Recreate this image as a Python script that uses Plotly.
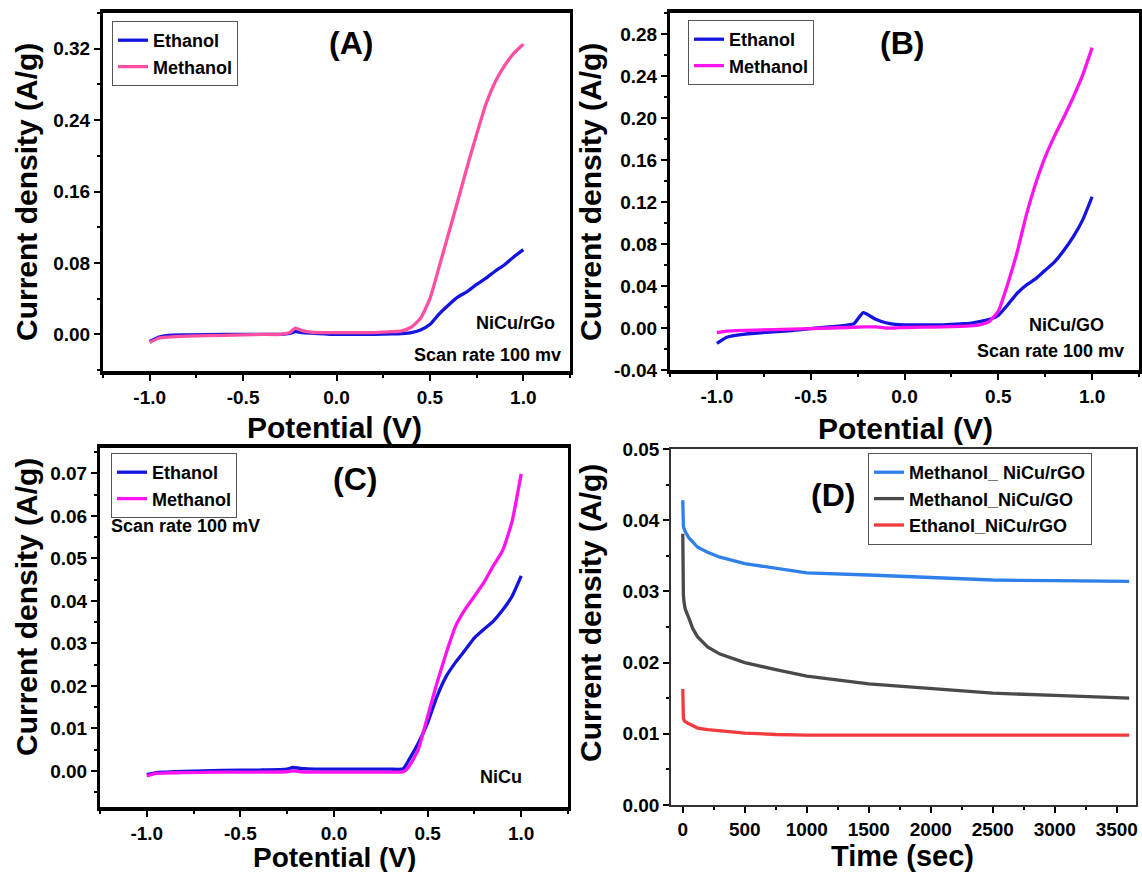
import plotly.graph_objects as go

W, H = 1142, 872

# ---------------- data ----------------
# Panel A  (NiCu/rGo)
a_pot = [-1.0, -0.95, -0.9, -0.8, -0.6, -0.4, -0.3, -0.25, -0.22, -0.18, -0.1, 0.0, 0.1, 0.2, 0.3,
         0.35, 0.4, 0.45, 0.5, 0.55, 0.6, 0.65, 0.7, 0.75, 0.8, 0.85, 0.9, 0.95, 1.0]
a_ethanol = [-0.008, -0.003, -0.001, -0.0005, 0.0, 0.0, 0.0, 0.001, 0.003, 0.002, 0.001, 0.0, 0.0, 0.0, 0.0005,
             0.001, 0.002, 0.005, 0.011, 0.023, 0.033, 0.042, 0.048, 0.056, 0.063, 0.071, 0.078, 0.087, 0.095]
a_methanol = [-0.009, -0.004, -0.003, -0.002, -0.001, 0.0, 0.0, 0.002, 0.007, 0.004, 0.002, 0.002, 0.002, 0.002, 0.003,
              0.004, 0.008, 0.018, 0.040, 0.076, 0.113, 0.150, 0.188, 0.224, 0.258, 0.283, 0.301, 0.315, 0.325]

# Panel B  (NiCu/GO)
b_pot = [-1.0, -0.95, -0.9, -0.8, -0.6, -0.5, -0.4, -0.3, -0.27, -0.22, -0.18, -0.15, -0.1, -0.05, 0.0, 0.1,
         0.2, 0.3, 0.35, 0.4, 0.45, 0.5, 0.55, 0.6, 0.65, 0.7, 0.75, 0.8, 0.85, 0.9, 0.95, 1.0]
b_ethanol = [-0.0146, -0.009, -0.007, -0.005, -0.0025, -0.0005, 0.001, 0.003, 0.004, 0.0146, 0.011, 0.008, 0.005,
             0.0035, 0.003, 0.003, 0.003, 0.004, 0.0045, 0.006, 0.008, 0.012, 0.022, 0.033, 0.041, 0.047, 0.055,
             0.063, 0.074, 0.087, 0.103, 0.125]
b_methanol = [-0.0045, -0.003, -0.0025, -0.002, -0.001, -0.0005, 0.0, 0.0005, 0.0007, 0.001, 0.001, 0.001, 0.0,
              0.0, 0.0005, 0.0008, 0.001, 0.0015, 0.002, 0.003, 0.006, 0.016, 0.042, 0.072, 0.108, 0.138, 0.163,
              0.183, 0.201, 0.220, 0.241, 0.267]

# Panel C  (NiCu)
c_pot = [-1.0, -0.95, -0.9, -0.8, -0.6, -0.4, -0.25, -0.22, -0.18, -0.1, 0.0, 0.2, 0.3, 0.37, 0.4, 0.45, 0.5,
         0.55, 0.6, 0.65, 0.7, 0.75, 0.8, 0.85, 0.9, 0.95, 1.0]
c_ethanol = [-0.0009, -0.0004, -0.0003, -0.0001, 0.0001, 0.0002, 0.0004, 0.0008, 0.0006, 0.0004, 0.0004, 0.0004,
             0.0004, 0.0005, 0.0026, 0.0065, 0.0113, 0.0175, 0.0223, 0.0256, 0.0284, 0.0313, 0.0333, 0.0352,
             0.0378, 0.0410, 0.0459]
c_methanol = [-0.0012, -0.0006, -0.0005, -0.0004, -0.0003, -0.0003, -0.0002, 0.0, -0.0002, -0.0003, -0.0003,
              -0.0003, -0.0003, -0.0002, 0.0010, 0.0050, 0.0128, 0.0207, 0.0278, 0.0341, 0.0380, 0.0411, 0.0443,
              0.0482, 0.0518, 0.0585, 0.0699]

# Panel D  (chronoamperometry)
d_time = [0, 1, 2, 5, 10, 20, 50, 80, 120, 200, 300, 500, 750, 1000, 1500, 2000, 2500, 3000, 3600]
d_meth_rgo = [0.0428, 0.0410, 0.0400, 0.0392, 0.0388, 0.0384, 0.0375, 0.0369, 0.0362, 0.0355, 0.0348, 0.0339,
              0.0332, 0.0326, 0.0323, 0.0320, 0.0316, 0.0315, 0.0314]
d_meth_go = [0.0381, 0.0340, 0.0310, 0.0295, 0.0285, 0.0275, 0.0262, 0.0248, 0.0236, 0.0222, 0.0212, 0.0200,
             0.0190, 0.0181, 0.0170, 0.0164, 0.0157, 0.0154, 0.0150]
d_eth_rgo = [0.0163, 0.0140, 0.0128, 0.0122, 0.0119, 0.0117, 0.0114, 0.0111, 0.0108, 0.0106, 0.0104, 0.0101,
             0.0099, 0.0098, 0.0098, 0.0098, 0.0098, 0.0098, 0.0098]

# tick labels
pot_ticks = [-1.0, -0.5, 0.0, 0.5, 1.0]
pot_labels = ["-1.0", "-0.5", "0.0", "0.5", "1.0"]
a_yticks = [0.0, 0.08, 0.16, 0.24, 0.32]
a_ylabels = ["0.00", "0.08", "0.16", "0.24", "0.32"]
b_yticks = [-0.04, 0.0, 0.04, 0.08, 0.12, 0.16, 0.20, 0.24, 0.28]
b_ylabels = ["-0.04", "0.00", "0.04", "0.08", "0.12", "0.16", "0.20", "0.24", "0.28"]
c_yticks = [0.0, 0.01, 0.02, 0.03, 0.04, 0.05, 0.06, 0.07]
c_ylabels = ["0.00", "0.01", "0.02", "0.03", "0.04", "0.05", "0.06", "0.07"]
d_yticks = [0.0, 0.01, 0.02, 0.03, 0.04, 0.05]
d_ylabels = ["0.00", "0.01", "0.02", "0.03", "0.04", "0.05"]
d_xticks = [0, 500, 1000, 1500, 2000, 2500, 3000, 3500]
d_xlabels = ["0", "500", "1000", "1500", "2000", "2500", "3000", "3500"]

# ---------------- styling ----------------
FONT = "Arial, Liberation Sans, sans-serif"
BLUE = "#1414DE"
PINK = "#FF4FA3"
MAGENTA = "#FF14F0"
D_BLUE = "#2F80E8"
D_GRAY = "#4A4A4A"
D_RED = "#F23A3F"

fig = go.Figure()


def add(x, y, name, color, n, legend, smooth=True):
    fig.add_trace(go.Scatter(x=x, y=y, name=name, mode="lines",
                             line=dict(color=color, width=3.3,
                                       shape="spline" if smooth else "linear",
                                       smoothing=0.5 if smooth else None),
                             xaxis="x" if n == 1 else f"x{n}",
                             yaxis="y" if n == 1 else f"y{n}",
                             legend=legend))


add(a_pot, a_ethanol, "Ethanol", BLUE, 1, "legend")
add(a_pot, a_methanol, "Methanol", PINK, 1, "legend")
add(b_pot, b_ethanol, "Ethanol", BLUE, 2, "legend2")
add(b_pot, b_methanol, "Methanol", MAGENTA, 2, "legend2")
add(c_pot, c_ethanol, "Ethanol", BLUE, 3, "legend3")
add(c_pot, c_methanol, "Methanol", MAGENTA, 3, "legend3")
add(d_time, d_meth_rgo, "Methanol_ NiCu/rGO", D_BLUE, 4, "legend4", smooth=False)
add(d_time, d_meth_go, "Methanol_NiCu/GO", D_GRAY, 4, "legend4", smooth=False)
add(d_time, d_eth_rgo, "Ethanol_NiCu/rGO", D_RED, 4, "legend4", smooth=False)


def px_x(v):
    return v / W


def px_y(v):
    return 1 - v / H


tickfont = dict(family=FONT, size=19, color="black", weight="bold")


def axis(domain, anchor, rng, tv, tt, minor_dtick, minor_tick0, lw, lc):
    return dict(domain=domain, anchor=anchor, range=rng, tickmode="array", tickvals=tv, ticktext=tt,
                automargin=False,
                showline=True, mirror=True, linewidth=lw, linecolor=lc, ticks="outside", ticklen=6,
                tickwidth=2, tickcolor="black", showgrid=False, zeroline=False, tickfont=tickfont,
                minor=dict(tickmode="linear", tick0=minor_tick0, dtick=minor_dtick, ticks="outside",
                           ticklen=3, tickwidth=2, tickcolor="black", showgrid=False))


layout = dict(
    template="none",
    width=W, height=H, margin=dict(l=0, r=0, t=0, b=0, autoexpand=False),
    paper_bgcolor="white", plot_bgcolor="white", showlegend=True,
    xaxis=axis([px_x(103), px_x(570)], "y", [-1.25, 1.25], pot_ticks, pot_labels, 0.25, -1.25, 3.5, "black"),
    yaxis=axis([px_y(371), px_y(13)], "x", [-0.041, 0.36], a_yticks, a_ylabels, 0.04, 0, 3, "black"),
    xaxis2=axis([px_x(670), px_x(1139)], "y2", [-1.25, 1.25], pot_ticks, pot_labels, 0.25, -1.25, 3.5, "black"),
    yaxis2=axis([px_y(370), px_y(13)], "x2", [-0.04, 0.30], b_yticks, b_ylabels, 0.02, 0, 3, "black"),
    xaxis3=axis([px_x(100), px_x(568)], "y3", [-1.25, 1.25], pot_ticks, pot_labels, 0.25, -1.25, 3.5, "black"),
    yaxis3=axis([px_y(807), px_y(448)], "x3", [-0.0085, 0.076], c_yticks, c_ylabels, 0.005, 0, 3, "black"),
    xaxis4=axis([px_x(671), px_x(1136)], "y4", [-95, 3655], d_xticks, d_xlabels, 250, 0, 1.5, "#333333"),
    yaxis4=axis([px_y(805), px_y(449)], "x4", [0, 0.05], d_yticks, d_ylabels, 0.005, 0, 1.5, "#333333"),
)

legfont = dict(family=FONT, size=18, color="black", weight="bold")
for key, lx, ly in [("legend", 112, 21), ("legend2", 688, 20), ("legend3", 111, 453), ("legend4", 868, 453)]:
    layout[key] = dict(x=px_x(lx), y=px_y(ly), xanchor="left", yanchor="top", bgcolor="white",
                       bordercolor="#555555", borderwidth=1, font=legfont, tracegroupgap=0,
                       itemwidth=30, traceorder="normal")

fig.update_layout(**layout)


def ann(text, x, y, size, xanchor="center", angle=0):
    fig.add_annotation(text=f"<b>{text}</b>", x=px_x(x), y=px_y(y), xref="paper", yref="paper",
                       showarrow=False, xanchor=xanchor, yanchor="middle", textangle=angle,
                       font=dict(family=FONT, size=size, color="black"))


# axis titles
ytitle = "Current density (A/g)"
ann(ytitle, 26, 192, 30, angle=-90)
ann(ytitle, 590, 192, 30, angle=-90)
ann(ytitle, 26, 607, 30, angle=-90)
ann(ytitle, 590, 613, 30, angle=-90)
ann("Potential (V)", 334, 427, 30)
ann("Potential (V)", 905, 428, 30)
ann("Potential (V)", 334, 857, 28)
ann("Time (sec)", 902, 856, 29)

# panel labels
ann("(A)", 351, 43, 32)
ann("(B)", 902, 43, 32)
ann("(C)", 355, 479, 32)
ann("(D)", 833, 495, 32)

# inner notes
ann("NiCu/rGo", 557, 323, 18, xanchor="right")
ann("Scan rate 100 mv", 563, 355, 18, xanchor="right")
ann("NiCu/GO", 1106, 325, 18, xanchor="right")
ann("Scan rate 100 mv", 1126, 351, 18, xanchor="right")
ann("Scan rate 100 mV", 109, 526, 18, xanchor="left")
ann("NiCu", 524, 777, 18, xanchor="right")

fig.write_html("out.html", config={"displayModeBar": False},
               post_script="document.body.style.margin='0';document.body.style.overflow='hidden';")
